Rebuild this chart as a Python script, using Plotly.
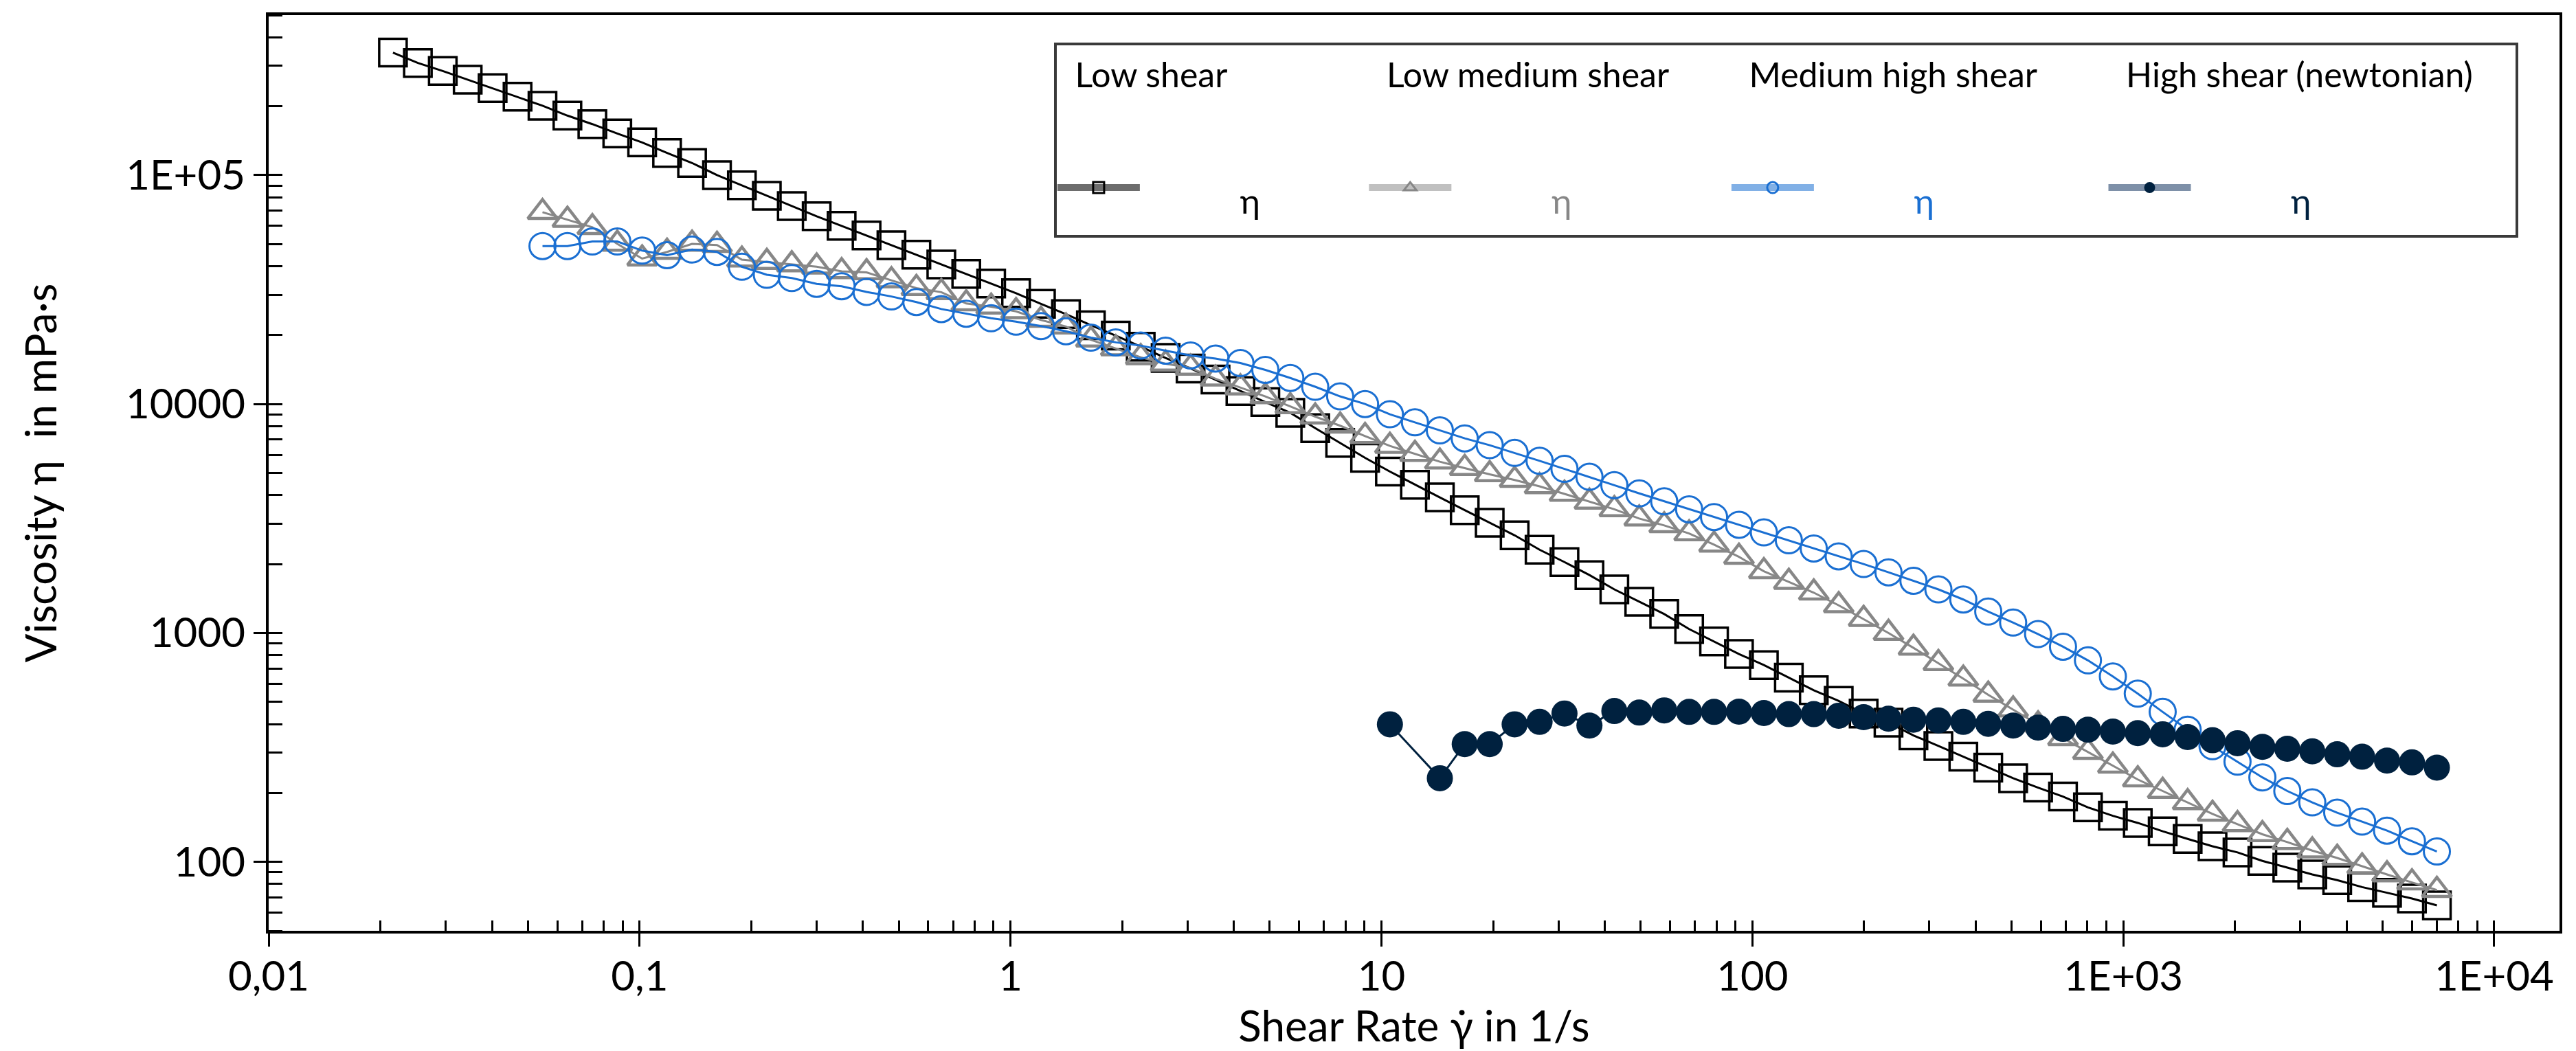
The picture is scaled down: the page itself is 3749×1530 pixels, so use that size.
import plotly.graph_objects as go

# ---------------- data ----------------
SHEAR_RATE = [0.02163, 0.02525, 0.02947, 0.03440, 0.04016, 0.04688, 0.05473, 0.06389, 0.07459, 0.08707,
              0.1016, 0.1186, 0.1385, 0.1617, 0.1887, 0.2203, 0.2572, 0.3002, 0.3505, 0.4092,
              0.4775, 0.5575, 0.6508, 0.7597, 0.8867, 1.035, 1.208, 1.411, 1.647, 1.922,
              2.244, 2.619, 3.058, 3.570, 4.167, 4.864, 5.679, 6.629, 7.739, 9.034,
              10.54, 12.31, 14.37, 16.77, 19.58, 22.86, 26.69, 31.15, 36.37, 42.45,
              49.55, 57.85, 67.53, 78.83, 92.02, 107.4, 125.4, 146.4, 170.9, 199.5,
              232.8, 271.8, 317.3, 370.4, 432.4, 504.7, 589.2, 687.8, 802.9, 937.3,
              1094, 1277, 1491, 1740, 2032, 2371, 2768, 3232, 3773, 4404,
              5140, 6001, 7005]

LOW_SHEAR = [343000, 309000, 285000, 261000, 240000, 220000, 201000, 182000, 167000, 152000,
             139000, 125000, 113000, 100000, 90200, 81300, 73300, 66100, 60000, 54500,
             49400, 44900, 40700, 37000, 33600, 30500, 27400, 24700, 22100, 19900,
             17800, 15900, 14300, 12800, 11400, 10200, 9160, 7850, 6760, 5820,
             5070, 4440, 3910, 3440, 3030, 2670, 2310, 2040, 1790, 1550,
             1370, 1210, 1040, 918, 809, 724, 638, 562, 505, 445,
             406, 357, 321, 288, 258, 232, 211, 193, 173, 159,
             148, 136, 126, 117, 110, 101, 94.4, 88.1, 83.2, 77.6,
             73.3, 69.2, 64.6]

LOW_MEDIUM_RATE = SHEAR_RATE[6:]
LOW_MEDIUM_SHEAR = [68900, 63700, 59200, 50100, 43200, 46200, 50100, 49500, 42700, 41700,
                    40700, 39800, 38000, 37600, 34700, 32100, 30800, 27500, 26600, 25400,
                    23300, 21800, 19100, 17500, 16000, 15000, 14400, 12900, 11800, 10800,
                    9770, 8810, 8040, 7240, 6560, 6050, 5600, 5250, 4930, 4660,
                    4370, 4050, 3740, 3470, 3160, 2950, 2720, 2430, 2150, 1860,
                    1670, 1500, 1320, 1150, 1000, 861, 738, 631, 537, 463,
                    398, 347, 302, 263, 229, 204, 182, 162, 146, 132,
                    122, 112, 104, 95.5, 88.1, 81.3, 75.3]

MEDIUM_HIGH_RATE = SHEAR_RATE[6:]
MEDIUM_HIGH_SHEAR = [49000, 49000, 51300, 51300, 46800, 44700, 47300, 46200, 39800, 36700,
                     35500, 33500, 32700, 30900, 29500, 27900, 26000, 24800, 23700, 22900,
                     21900, 20800, 19500, 18600, 18000, 17100, 16300, 15800, 15100, 14100,
                     13000, 11900, 10800, 10000, 9020, 8320, 7670, 7080, 6610, 6120,
                     5650, 5210, 4810, 4420, 4070, 3760, 3470, 3210, 2970, 2750,
                     2540, 2340, 2160, 2000, 1840, 1690, 1550, 1400, 1240, 1110,
                     989, 871, 759, 646, 543, 452, 378, 320, 274, 234,
                     204, 182, 164, 150, 137, 123, 111]

HIGH_SHEAR_RATE = [10.54, 14.37, 16.77, 19.58, 22.86, 26.69, 31.15, 36.37, 42.45,
                   49.55, 57.85, 67.53, 78.83, 92.02, 107.4, 125.4, 146.4, 170.9, 199.5,
                   232.8, 271.8, 317.3, 370.4, 432.4, 504.7, 589.2, 687.8, 802.9, 937.3,
                   1094, 1277, 1491, 1740, 2032, 2371, 2768, 3232, 3773, 4404,
                   5140, 6001, 7005]
HIGH_SHEAR = [399, 232, 327, 327, 399, 409, 445, 394, 456,
              449, 459, 452, 452, 453, 447, 442, 442, 435, 429,
              422, 418, 415, 409, 401, 394, 386, 381, 378, 371,
              365, 361, 351, 340, 330, 318, 312, 304, 295, 288,
              277, 272, 258]

GROUP_TITLES = ["Low shear", "Low medium shear", "Medium high shear", "High shear (newtonian)"]
ITEM_LABEL = "η"
X_TICKS = [0.01, 0.1, 1, 10, 100, 1000, 10000]
X_TICK_TEXT = ["0,01", "0,1", "1", "10", "100", "1E+03", "1E+04"]
Y_TICKS = [100, 1000, 10000, 100000]
Y_TICK_TEXT = ["100", "1000", "10000", "1E+05"]

# ---------------- styling ----------------
FONT = "Lato, 'Noto Sans', sans-serif"
NB = "\u00a0"
TITLE_PAD_BEFORE = 2
TITLE_PAD_AFTER = [15, 6, 7, 4]   # spacing between legend columns (in no-break spaces)
X_RANGE = [-2, 4.176]
Y_RANGE = [1.699, 5.699]

styles = [
    dict(x=SHEAR_RATE, y=LOW_SHEAR, symbol="square-open", color="#000000", size=40, mlw=3.5,
         legline="rgba(60,60,60,0.75)"),
    dict(x=LOW_MEDIUM_RATE, y=LOW_MEDIUM_SHEAR, symbol="triangle-up-open", color="#878787", size=37, mlw=4.5,
         legline="rgba(150,150,150,0.6)"),
    dict(x=MEDIUM_HIGH_RATE, y=MEDIUM_HIGH_SHEAR, symbol="circle-open", color="#1a6fd2", size=38, mlw=3,
         legline="rgba(26,111,210,0.55)"),
    dict(x=HIGH_SHEAR_RATE, y=HIGH_SHEAR, symbol="circle", color="#00213f", size=38, mlw=0,
         legline="rgba(40,70,110,0.6)"),
]

fig = go.Figure()
for s in styles:
    fig.add_trace(go.Scatter(
        x=s["x"], y=s["y"], mode="lines+markers", showlegend=False,
        line=dict(color=s["color"], width=3),
        marker=dict(symbol=s["symbol"], size=s["size"], color=s["color"],
                    line=dict(color=s["color"], width=s["mlw"])),
    ))

# legend entries (no data, only legend appearance)
for i, s in enumerate(styles):
    title_html = '<span style="font-size:50px">%s%s%s</span><br> ' % (
        NB * TITLE_PAD_BEFORE, GROUP_TITLES[i], NB * TITLE_PAD_AFTER[i])
    item_html = '<span style="font-size:50px;color:%s">%s%s</span>' % (s["color"], NB * 11, ITEM_LABEL)
    fig.add_trace(go.Scatter(
        x=[None], y=[None], mode="lines+markers",
        name=item_html,
        legendgroup="g%d" % i,
        legendgrouptitle=dict(text=title_html, font=dict(size=52, color="black")),
        line=dict(color=s["legline"], width=10),
        marker=dict(symbol=s["symbol"], size=16, color=s["color"],
                    line=dict(color=s["color"], width=3 if s["mlw"] else 0)),
    ))

# empty trace that carries the overlay axes used for the crossing major ticks
fig.add_trace(go.Scatter(x=[None], y=[None], xaxis="x2", yaxis="y2", showlegend=False,
                         hoverinfo="skip"))

minor = dict(ticks="inside", tickwidth=3, tickcolor="black", dtick="D1", showgrid=False)
base = dict(type="log", showgrid=False, zeroline=False, tickcolor="black", tickwidth=3)

fig.update_layout(
    width=3749, height=1530,
    margin=dict(l=383, r=32, t=14, b=183, autoexpand=False),
    paper_bgcolor="white", plot_bgcolor="white",
    font=dict(family=FONT, size=60, color="black"),
    legend=dict(
        orientation="h", x=0.3428, y=0.970, xanchor="left", yanchor="top",
        bgcolor="white", bordercolor="#3a3a3a", borderwidth=4,
        font=dict(size=96, color="black"), itemwidth=120,
    ),
    xaxis=dict(**base, range=X_RANGE, tickvals=X_TICKS, ticktext=X_TICK_TEXT,
               showline=True, linewidth=4, linecolor="black", mirror=True,
               ticks="inside", ticklen=6, ticklabelstandoff=11,
               tickfont=dict(size=60, color="black"),
               minor=dict(**minor, ticklen=15),
               title=dict(text="Shear Rate γ̇ in 1/s", font=dict(size=62), standoff=14)),
    yaxis=dict(**base, range=Y_RANGE, tickvals=Y_TICKS, ticktext=Y_TICK_TEXT,
               showline=True, linewidth=4, linecolor="black", mirror=True,
               ticks="outside", ticklen=18,
               tickfont=dict(size=60, color="black"),
               minor=dict(**minor, ticklen=20),
               title=dict(text="Viscosity η  in mPa·s", font=dict(size=62), standoff=81)),
    xaxis2=dict(**base, range=X_RANGE, tickvals=X_TICKS, overlaying="x", anchor="y2", side="bottom",
                ticks="outside", ticklen=22, showticklabels=False, showline=False),
    yaxis2=dict(**base, range=Y_RANGE, tickvals=Y_TICKS, overlaying="y", anchor="x2", side="left",
                ticks="inside", ticklen=6, showticklabels=False, showline=False),
)

fig.write_html("out.html")
